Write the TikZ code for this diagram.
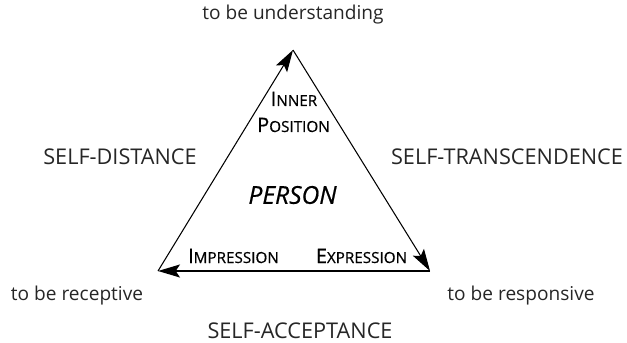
\documentclass[tikz,border=0pt]{standalone}
\usepackage{fontspec}
\setmainfont{Open Sans}
\newfontfamily\heavier[FakeBold=0.6]{Open Sans}
\usetikzlibrary{arrows.meta}
% fake small capitals: first letter full size, rest smaller
\newcommand\fsc[2]{#1{\fontsize{13}{15}\selectfont #2}}
\tikzset{
  corner/.style={font=\fontsize{16.3}{19}\selectfont, text=black!85, inner sep=0pt},
  side/.style={font=\fontsize{18.5}{22}\selectfont, text=black!85, inner sep=0pt},
  inner/.style={font=\heavier\fontsize{17}{20}\selectfont, inner sep=0pt, anchor=base},
}
\begin{document}
\begin{tikzpicture}[x=0.03cm, y=-0.03cm, line join=round,
  >={Stealth[length=6.6mm,width=3.9mm,inset=1.3mm]}]
\useasboundingbox (0,0) rectangle (627,343);
\path (293,50) coordinate (U)
      (158,271) coordinate (L)
      (430,271) coordinate (R);
\draw[->, line width=0.9pt] (L) -- (U);
\draw[->, line width=0.9pt] (U) -- (R);
\draw[->, line width=1.3pt] (R) -- (L);
% the three corners
\node[corner] (understanding) at (293,15) {to be understanding};
\node[corner] (receptive) at (77,296) {to be receptive};
\node[corner] (responsive) at (521,296) {to be responsive};
% the three sides
\node[side] (distance) at (120,157) {SELF-DISTANCE};
\node[side] (transcendence) at (507,157) {SELF-TRANSCENDENCE};
\node[side] (acceptance) at (300,331) {SELF-ACCEPTANCE};
% inside the triangle
\node[inner] (inner) at (294,106) {\fsc{I}{NNER}};
\node[inner] (position) at (293.5,132) {\fsc{P}{OSITION}};
\node[inner] (impression) at (233.5,263) {\fsc{I}{MPRESSION}};
\node[inner] (expression) at (361.5,263) {\fsc{E}{XPRESSION}};
\node[font=\heavier\fontsize{21}{25}\selectfont\itshape, inner sep=0pt] (person) at (292.5,195) {PERSON};
\end{tikzpicture}
\end{document}
